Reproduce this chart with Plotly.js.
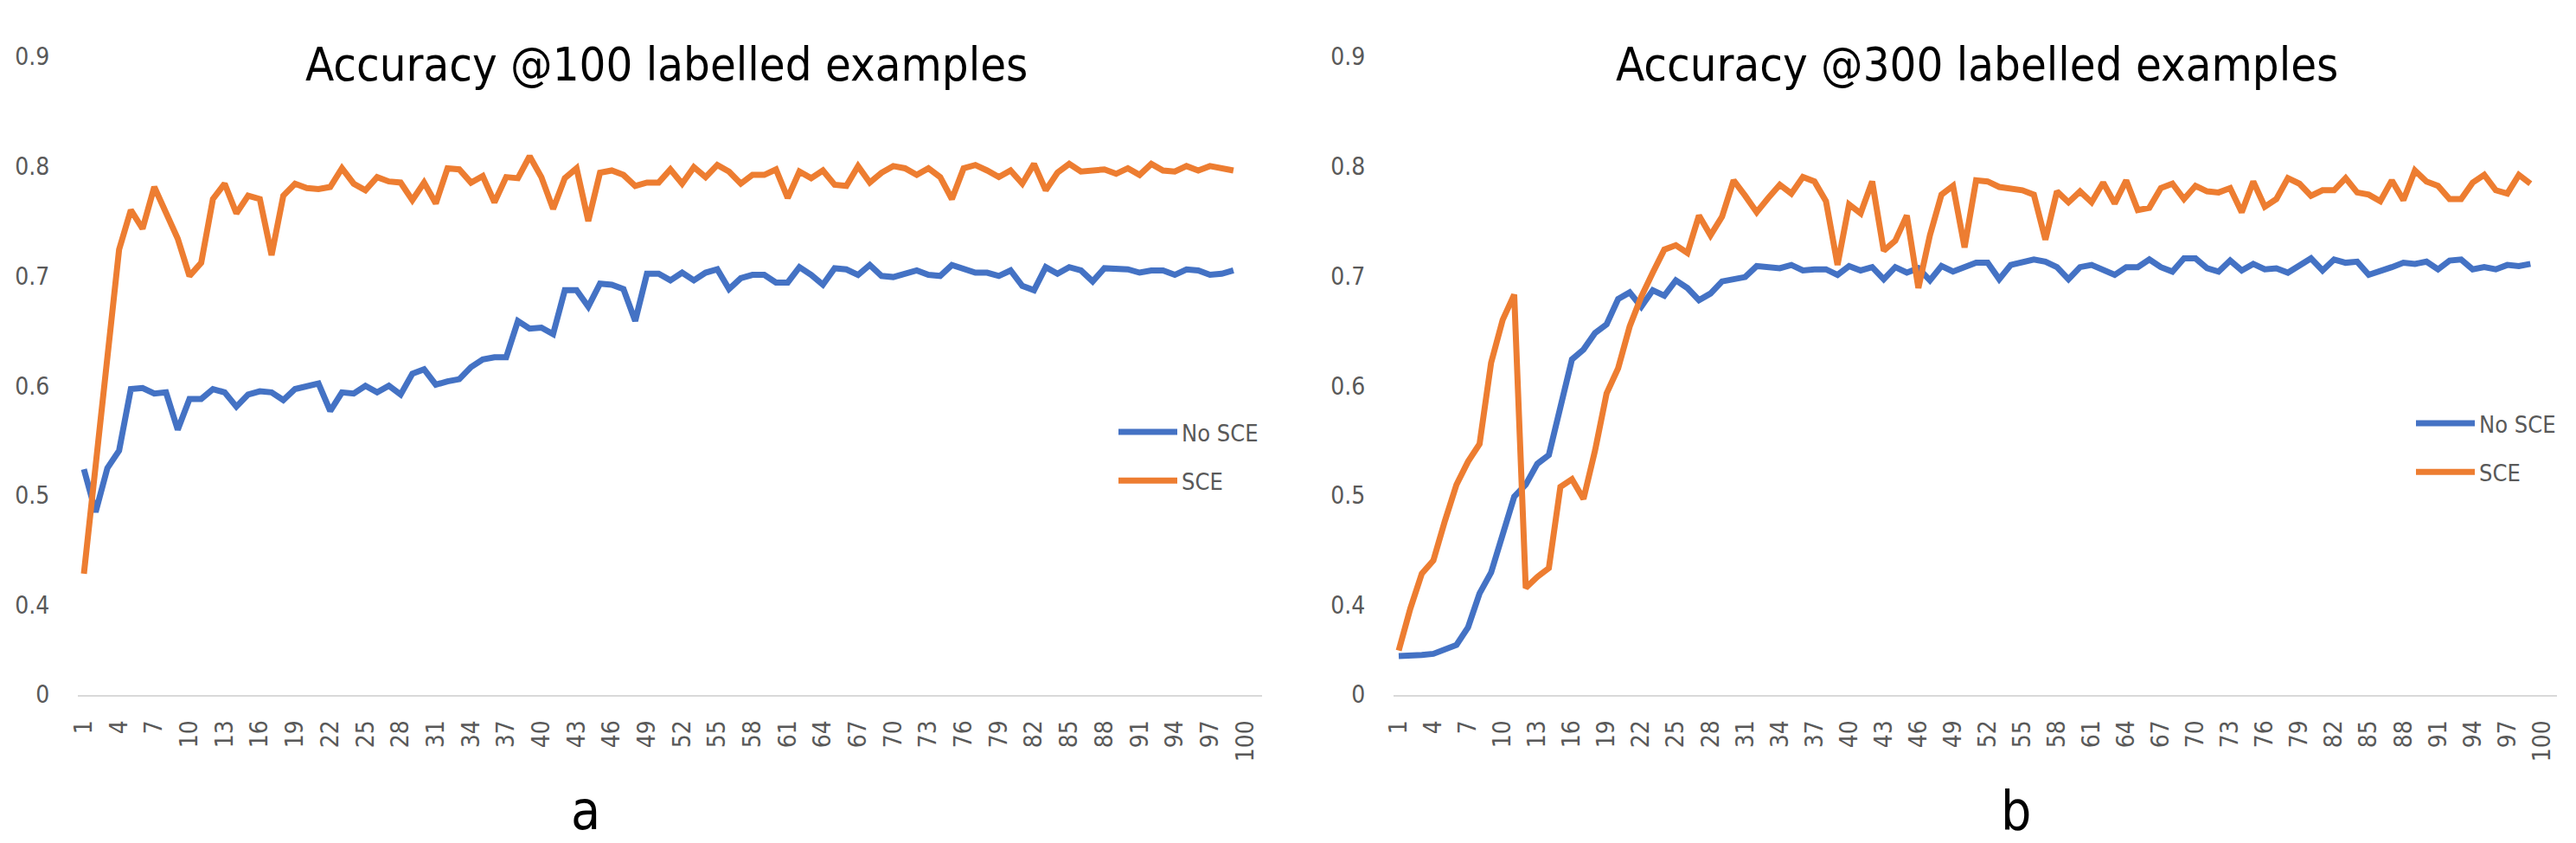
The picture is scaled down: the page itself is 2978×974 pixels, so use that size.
<!DOCTYPE html>
<html>
<head>
<meta charset="utf-8">
<script src="https://cdn.plot.ly/plotly-3.0.1.min.js"></script>
<style>
  html, body { margin: 0; padding: 0; background: #ffffff; }
  #chart { width: 2978px; height: 974px; }
</style>
</head>
<body>
<div id="chart"></div>
<script>
// ---- data ----
const epochs = [1,2,3,4,5,6,7,8,9,10,11,12,13,14,15,16,17,18,19,20,21,22,23,24,25,26,27,28,29,30,
  31,32,33,34,35,36,37,38,39,40,41,42,43,44,45,46,47,48,49,50,51,52,53,54,55,56,57,58,59,60,
  61,62,63,64,65,66,67,68,69,70,71,72,73,74,75,76,77,78,79,80,81,82,83,84,85,86,87,88,89,90,
  91,92,93,94,95,96,97,98,99];

const xTickVals = [1,4,7,10,13,16,19,22,25,28,31,34,37,40,43,46,49,52,55,58,61,64,67,70,73,76,79,82,85,88,91,94,97,100];
const xTickText = ["1","4","7","10","13","16","19","22","25","28","31","34","37","40","43","46","49","52","55","58","61","64","67","70","73","76","79","82","85","88","91","94","97","100"];

const yTickVals = [0.3189, 0.4, 0.5, 0.6, 0.7, 0.8, 0.9];
const yTickText = ["0", "0.4", "0.5", "0.6", "0.7", "0.8", "0.9"];

const seriesNames = ["No SCE", "SCE"];
const panelTitles = ["Accuracy @100 labelled examples", "Accuracy @300 labelled examples"];
const panelLetters = ["a", "b"];

const noSce100 = [0.524,0.485,0.525,0.541,0.597,0.598,0.593,0.594,0.560,0.588,
  0.588,0.597,0.594,0.581,0.592,0.595,0.594,0.587,0.597,0.600,
  0.602,0.577,0.594,0.593,0.600,0.594,0.600,0.592,0.611,0.615,
  0.601,0.604,0.606,0.617,0.624,0.626,0.626,0.659,0.652,0.653,
  0.647,0.687,0.687,0.672,0.693,0.692,0.688,0.659,0.702,0.702,
  0.696,0.703,0.696,0.703,0.706,0.688,0.698,0.701,0.701,0.694,
  0.694,0.708,0.701,0.692,0.707,0.706,0.701,0.710,0.700,0.699,
  0.702,0.705,0.701,0.700,0.710,0.707,0.703,0.703,0.700,0.705,
  0.691,0.687,0.708,0.702,0.708,0.705,0.695,0.707,0.707,0.706,
  0.703,0.705,0.705,0.701,0.706,0.705,0.701,0.702,0.705];

const sce100 = [0.429,0.530,0.630,0.724,0.760,0.743,0.781,0.757,0.734,0.700,
  0.712,0.770,0.784,0.757,0.773,0.770,0.719,0.773,0.784,0.780,
  0.779,0.781,0.798,0.784,0.778,0.790,0.786,0.785,0.769,0.785,
  0.766,0.798,0.797,0.785,0.791,0.767,0.790,0.789,0.809,0.790,
  0.761,0.789,0.798,0.750,0.794,0.796,0.792,0.782,0.785,0.785,
  0.797,0.784,0.799,0.790,0.801,0.795,0.784,0.792,0.792,0.797,
  0.771,0.795,0.789,0.796,0.783,0.782,0.800,0.785,0.794,0.800,
  0.798,0.792,0.798,0.790,0.770,0.798,0.801,0.796,0.790,0.796,
  0.784,0.802,0.778,0.794,0.802,0.795,0.796,0.797,0.793,0.798,
  0.792,0.802,0.796,0.795,0.800,0.796,0.800,0.798,0.796];

const noSce300 = [0.354,0.354,0.355,0.356,0.360,0.364,0.380,0.411,0.430,0.463,
  0.499,0.510,0.529,0.537,0.580,0.624,0.633,0.648,0.656,0.679,
  0.685,0.672,0.687,0.682,0.696,0.689,0.678,0.684,0.695,0.697,
  0.699,0.709,0.708,0.707,0.710,0.705,0.706,0.706,0.701,0.709,
  0.705,0.708,0.697,0.708,0.703,0.707,0.696,0.709,0.704,0.708,
  0.712,0.712,0.697,0.710,0.713,0.715,0.713,0.708,0.697,0.708,
  0.710,0.705,0.701,0.708,0.708,0.715,0.708,0.704,0.716,0.716,
  0.707,0.704,0.714,0.705,0.711,0.706,0.707,0.703,0.710,0.716,
  0.705,0.715,0.712,0.713,0.701,0.704,0.708,0.712,0.711,0.713,
  0.706,0.714,0.715,0.706,0.708,0.706,0.710,0.709,0.711];

const sce300 = [0.359,0.397,0.429,0.441,0.477,0.510,0.531,0.547,0.621,0.660,
  0.683,0.416,0.426,0.434,0.508,0.515,0.497,0.541,0.593,0.616,
  0.654,0.681,0.703,0.724,0.728,0.721,0.755,0.737,0.754,0.787,
  0.773,0.758,0.771,0.783,0.775,0.790,0.786,0.768,0.710,0.765,
  0.757,0.786,0.723,0.732,0.755,0.689,0.737,0.774,0.782,0.726,
  0.787,0.786,0.781,0.780,0.778,0.774,0.733,0.777,0.767,0.777,
  0.767,0.785,0.766,0.787,0.760,0.762,0.780,0.784,0.770,0.782,
  0.777,0.776,0.780,0.758,0.786,0.763,0.770,0.789,0.784,0.773,
  0.778,0.778,0.789,0.776,0.774,0.768,0.787,0.769,0.796,0.786,
  0.782,0.770,0.770,0.785,0.792,0.778,0.775,0.792,0.784];

// ---- styling ----
const W = 2978, H = 974;
const FONT = "'Liberation Sans Narrow', 'Arial Narrow', 'DejaVu Sans Condensed', 'Open Sans', sans-serif";
const BLUE = "#4472C4", ORANGE = "#ED7D31", GREY = "#595959";
const px = v => v / W;
const py = v => (H - v) / H;

function lineTrace(y, name, color, xa, ya, legend, group) {
  return {
    type: "scatter", mode: "lines",
    x: epochs.slice(0, y.length), y: y, name: name,
    xaxis: xa, yaxis: ya, legend: legend, legendgroup: group,
    line: { color: color, width: 7, shape: "linear" },
    hoverinfo: "skip"
  };
}

const traces = [
  lineTrace(noSce100, seriesNames[0], BLUE, "x", "y", "legend", "a1"),
  lineTrace(sce100, seriesNames[1], ORANGE, "x", "y", "legend", "a2"),
  lineTrace(noSce300, seriesNames[0], BLUE, "x2", "y2", "legend2", "b1"),
  lineTrace(sce300, seriesNames[1], ORANGE, "x2", "y2", "legend2", "b2")
];

function xAxis(domain, range, anchor) {
  return {
    domain: domain, range: range, anchor: anchor,
    tickvals: xTickVals, ticktext: xTickText, tickangle: -90,
    tickfont: { family: FONT, size: 28, color: GREY },
    showgrid: false, zeroline: false,
    showline: true, linecolor: "#d9d9d9", linewidth: 2,
    ticks: "outside", ticklen: 16, tickcolor: "rgba(0,0,0,0)",
    fixedrange: true
  };
}
function yAxis(domain, anchor) {
  return {
    domain: domain, range: [0.3185, 0.9], anchor: anchor,
    tickvals: yTickVals, ticktext: yTickText,
    tickfont: { family: FONT, size: 28, color: GREY },
    showgrid: false, zeroline: false, showline: false,
    ticks: "outside", ticklen: 26, tickcolor: "rgba(0,0,0,0)",
    fixedrange: true
  };
}

const yDom = [py(803), py(65)];

const legendCommon = {
  font: { family: FONT, size: 27, color: GREY },
  bgcolor: "rgba(0,0,0,0)", borderwidth: 0,
  traceorder: "grouped", tracegroupgap: 18, itemwidth: 68,
  xanchor: "left", yanchor: "top", orientation: "v"
};

const layout = {
  width: W, height: H,
  margin: { l: 0, r: 0, t: 0, b: 0 },
  paper_bgcolor: "#ffffff", plot_bgcolor: "#ffffff",
  showlegend: true,
  xaxis: xAxis([px(90), px(1459)], [0.484, 101.44], "y"),
  yaxis: yAxis(yDom, "x"),
  xaxis2: xAxis([px(1611), px(2956)], [0.55, 101.3], "y2"),
  yaxis2: yAxis(yDom, "x2"),
  legend: Object.assign({ x: px(1288), y: py(475) }, legendCommon),
  legend2: Object.assign({ x: px(2788), y: py(465) }, legendCommon),
  annotations: [
    { text: panelTitles[0], x: px(770), y: py(75), xref: "paper", yref: "paper",
      xanchor: "center", yanchor: "middle", showarrow: false,
      font: { family: FONT, size: 54, color: "#000000" } },
    { text: panelTitles[1], x: px(2285), y: py(75), xref: "paper", yref: "paper",
      xanchor: "center", yanchor: "middle", showarrow: false,
      font: { family: FONT, size: 54, color: "#000000" } },
    { text: panelLetters[0], x: px(677), y: py(936), xref: "paper", yref: "paper",
      xanchor: "center", yanchor: "middle", showarrow: false,
      font: { family: FONT, size: 62, color: "#000000" } },
    { text: panelLetters[1], x: px(2330), y: py(936), xref: "paper", yref: "paper",
      xanchor: "center", yanchor: "middle", showarrow: false,
      font: { family: FONT, size: 62, color: "#000000" } }
  ]
};

Plotly.newPlot("chart", traces, layout, { displayModeBar: false, staticPlot: true });
</script>
</body>
</html>
